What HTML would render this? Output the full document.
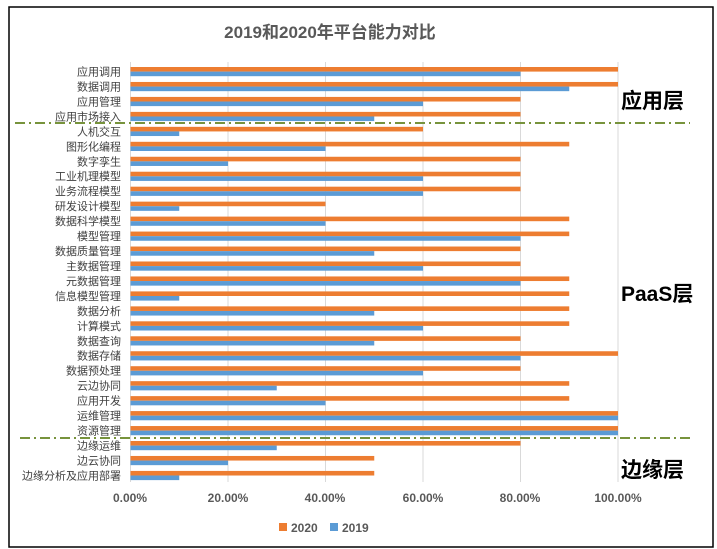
<!DOCTYPE html>
<html><head><meta charset="utf-8"><style>
body{margin:0;background:#fff}
svg{display:block;font-family:"Liberation Sans","Noto Sans CJK SC",sans-serif}
</style></head><body>
<svg width="717" height="549" viewBox="0 0 717 549" xmlns="http://www.w3.org/2000/svg">
<rect x="9" y="7" width="704" height="540" fill="#fff" stroke="#000" stroke-width="1.5"/>
<text x="330" y="38" text-anchor="middle" font-size="17" font-weight="bold" fill="#595959">2019和2020年平台能力对比</text>
<g stroke="#d9d9d9" stroke-width="1">
<line x1="130.5" y1="62" x2="130.5" y2="482"/><line x1="228" y1="62" x2="228" y2="482"/><line x1="325.5" y1="62" x2="325.5" y2="482"/><line x1="423" y1="62" x2="423" y2="482"/><line x1="520.5" y1="62" x2="520.5" y2="482"/><line x1="618" y1="62" x2="618" y2="482"/>
</g>
<g id="bars"></g>
<g id="labels" font-size="11" fill="#404040" text-anchor="end"></g>
<line x1="15" y1="123" x2="690" y2="123" stroke="#77933c" stroke-width="2" stroke-dasharray="10,4,2,4"/>
<line x1="20" y1="438" x2="690" y2="438" stroke="#77933c" stroke-width="2" stroke-dasharray="10,4,2,4"/>
<g font-size="21" font-weight="bold" fill="#000">
<text x="621" y="108">应用层</text>
<text x="621" y="301">PaaS层</text>
<text x="621" y="477">边缘层</text>
</g>
<g font-size="12" font-weight="bold" fill="#595959" text-anchor="middle">
<text x="130" y="502">0.00%</text><text x="228" y="502">20.00%</text><text x="325" y="502">40.00%</text><text x="423" y="502">60.00%</text><text x="520" y="502">80.00%</text><text x="618" y="502">100.00%</text>
</g>
<rect x="279" y="523" width="8" height="8" fill="#ed7d31"/>
<text x="291" y="532" font-size="12" font-weight="bold" fill="#595959">2020</text>
<rect x="330" y="523" width="8" height="8" fill="#5b9bd5"/>
<text x="342" y="532" font-size="12" font-weight="bold" fill="#595959">2019</text>
</svg>
<script>
var d=[["应用调用",100,80],["数据调用",100,90],["应用管理",80,60],["应用市场接入",80,50],["人机交互",60,10],["图形化编程",90,40],["数字孪生",80,20],["工业机理模型",80,60],["业务流程模型",80,60],["研发设计模型",40,10],["数据科学模型",90,40],["模型管理",90,80],["数据质量管理",80,50],["主数据管理",80,60],["元数据管理",90,80],["信息模型管理",90,10],["数据分析",90,50],["计算模式",90,60],["数据查询",80,50],["数据存储",100,80],["数据预处理",80,60],["云边协同",90,30],["应用开发",90,40],["运维管理",100,100],["资源管理",100,100],["边缘运维",80,30],["边云协同",50,20],["边缘分析及应用部署",50,10]];
var ns="http://www.w3.org/2000/svg",b=document.getElementById("bars"),l=document.getElementById("labels");
d.forEach(function(r,i){var y=67+i*14.96;
function R(yy,v,c){var e=document.createElementNS(ns,"rect");e.setAttribute("x",130.5);e.setAttribute("y",yy);e.setAttribute("width",v*4.875);e.setAttribute("height",4.6);e.setAttribute("fill",c);b.appendChild(e);}
R(y,r[1],"#ed7d31");R(y+4.6,r[2],"#5b9bd5");
var t=document.createElementNS(ns,"text");t.setAttribute("x",121);t.setAttribute("y",y+8.5);t.textContent=r[0];l.appendChild(t);});
</script>
</body></html>
